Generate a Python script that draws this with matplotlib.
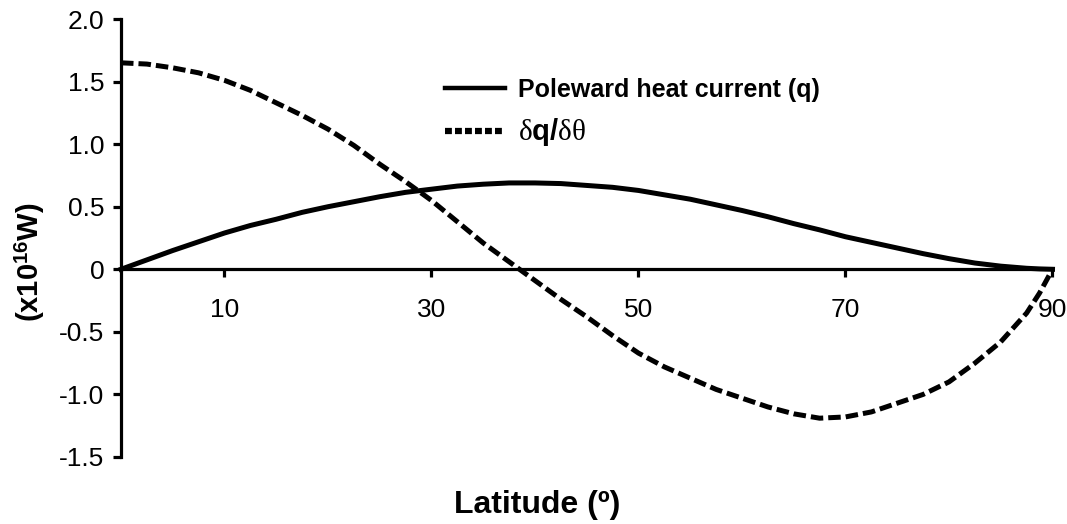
import matplotlib
matplotlib.use('Agg')
import matplotlib.pyplot as plt
from matplotlib.lines import Line2D

plt.rcParams['font.family'] = ['Liberation Sans', 'DejaVu Sans']
plt.rcParams['axes.unicode_minus'] = False
plt.rcParams['mathtext.fontset'] = 'custom'
plt.rcParams['mathtext.rm'] = 'Liberation Serif'
plt.rcParams['mathtext.it'] = 'Liberation Serif'
plt.rcParams['mathtext.bf'] = 'Liberation Sans:bold'

# latitude (degrees) and values (x10^16 W)
latitude = [0, 2.5, 5, 7.5, 10, 12.5, 15, 17.5, 20, 22.5, 25, 27.5, 30, 32.5, 35, 37.5,
            40, 42.5, 45, 47.5, 50, 52.5, 55, 57.5, 60, 62.5, 65, 67.5, 70, 72.5, 75,
            77.5, 80, 82.5, 85, 87.5, 88.75, 90]
heat_current = [0, 0.075, 0.15, 0.22, 0.29, 0.35, 0.40, 0.455, 0.50, 0.54, 0.58, 0.615,
                0.64, 0.665, 0.68, 0.69, 0.69, 0.685, 0.67, 0.655, 0.63, 0.595, 0.56,
                0.515, 0.47, 0.42, 0.365, 0.315, 0.26, 0.215, 0.17, 0.125, 0.085, 0.05,
                0.025, 0.008, 0.003, 0]
heat_gradient = [1.65, 1.64, 1.61, 1.57, 1.51, 1.43, 1.33, 1.23, 1.12, 0.99, 0.84, 0.70,
                 0.55, 0.38, 0.21, 0.06, -0.09, -0.24, -0.38, -0.53, -0.67, -0.78, -0.87,
                 -0.96, -1.03, -1.10, -1.155, -1.19, -1.18, -1.14, -1.07, -1.00, -0.90,
                 -0.75, -0.58, -0.35, -0.19, 0]

x_ticks = [10, 30, 50, 70, 90]
y_ticks = [-1.5, -1.0, -0.5, 0, 0.5, 1.0, 1.5, 2.0]
y_tick_labels = ['-1.5', '-1.0', '-0.5', '0', '0.5', '1.0', '1.5', '2.0']

fig = plt.figure(figsize=(10.67, 5.24), dpi=100)
ax = fig.add_axes([0.1134, 0.1279, 0.8730, 0.8358])

ax.plot(latitude, heat_current, color='black', lw=3.6, clip_on=False)
ax.plot(latitude, heat_gradient, color='black', lw=3.6, ls=(0, (2.5, 1.0)),
        dash_capstyle='butt', clip_on=False)

ax.set_xlim(0, 90)
ax.set_ylim(-1.5, 2.0)
ax.set_xticks(x_ticks)
ax.set_xticklabels([str(t) for t in x_ticks])
ax.set_yticks(y_ticks)
ax.set_yticklabels(y_tick_labels)

ax.spines['top'].set_visible(False)
ax.spines['right'].set_visible(False)
ax.spines['bottom'].set_position(('data', 0))
for s in ['left', 'bottom']:
    ax.spines[s].set_linewidth(2.3)

ax.tick_params(axis='x', direction='out', length=6, width=2.3, pad=15, labelsize=19)
ax.tick_params(axis='y', direction='out', length=6, width=2.3, pad=6, labelsize=19)

handles = [Line2D([], [], color='black', lw=3.2),
           Line2D([], [], color='black', lw=4.5, ls=(0, (1.1, 0.5)))]
labels = ['Poleward heat current (q)', r'$\delta\mathbf{q/}\delta\theta$']
leg = ax.legend(handles, labels, loc='upper left', bbox_to_anchor=(0.348, 0.865),
                frameon=False, handlelength=2.4, handletextpad=0.5, labelspacing=0.55,
                borderaxespad=0, borderpad=0, prop={'weight': 'bold', 'size': 18})
leg.get_texts()[1].set_fontweight('normal')
leg.get_texts()[1].set_fontsize(21)

fig.text(0.028, 1 - 262 / 524, r'(x10$^{\mathbf{16}}$W)', rotation=90, fontsize=21,
         fontweight='bold', ha='center', va='center')
fig.text(0.503, 1 - 505 / 524, 'Latitude (º)', fontsize=23, fontweight='bold',
         ha='center', va='center')

fig.savefig('out.png', dpi=100)
